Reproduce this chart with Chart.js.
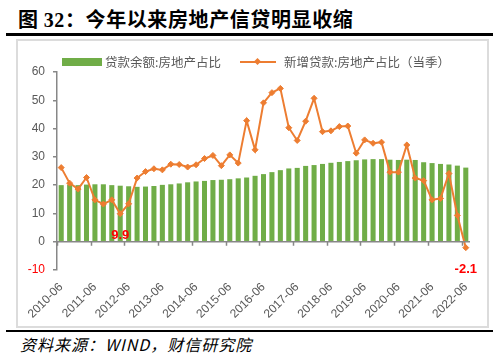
<!DOCTYPE html>
<html>
<head>
<meta charset="utf-8">
<script src="https://cdn.jsdelivr.net/npm/chart.js@4.4.0/dist/chart.umd.min.js"></script>
<style>
  html,body{margin:0;padding:0;background:#fff;}
  body{width:500px;height:356px;position:relative;overflow:hidden;font-family:"Noto Sans CJK SC","Noto Sans",sans-serif;}
  #title{position:absolute;left:18px;top:6px;font-size:20px;font-weight:bold;color:#000;white-space:nowrap;line-height:26px;letter-spacing:0.6px;}
  #title .num{font-family:"Liberation Serif",serif;font-weight:bold;}
  #rule1{position:absolute;left:6px;top:33px;width:487px;height:3px;background:#000;}
  #box{position:absolute;left:16px;top:39px;width:473px;height:289px;border:2px solid #dcdcdc;box-sizing:border-box;}
  #wrap{position:absolute;left:17px;top:40px;width:472px;height:288px;}
  #rule2{position:absolute;left:6px;top:330px;width:487px;height:2px;background:#000;}
  #source{position:absolute;left:20px;top:334px;font-size:16px;font-style:italic;color:#000;white-space:nowrap;line-height:20px;letter-spacing:1px;}
  .lg{position:absolute;font-size:12.5px;color:#595959;white-space:nowrap;line-height:16px;}
  #sw1{position:absolute;left:62px;top:58px;width:40px;height:8px;background:#70AD47;}
  #sw2{position:absolute;left:240px;top:61px;width:36px;height:2px;background:#ED7D31;}
  #sw2m{position:absolute;left:255px;top:59px;width:5px;height:5px;background:#ED7D31;transform:rotate(45deg);}
</style>
</head>
<body>
<div id="title">图 <span class="num">32</span>：今年以来房地产信贷明显收缩</div>
<div id="rule1"></div>
<div id="box"></div>
<div id="wrap"><canvas id="c"></canvas></div>
<div id="sw1"></div>
<div class="lg" style="left:105px;top:54px;">贷款余额:房地产占比</div>
<div id="sw2"></div><div id="sw2m"></div>
<div class="lg" style="left:284px;top:54px;">新增贷款:房地产占比（当季）</div>
<div id="rule2"></div>
<div id="source">资料来源：WIND，财信研究院</div>
<script>
// Quarterly categories 2010-06 .. 2022-06
const categories = [
  "2010-06","2010-09","2010-12","2011-03","2011-06","2011-09","2011-12","2012-03",
  "2012-06","2012-09","2012-12","2013-03","2013-06","2013-09","2013-12","2014-03",
  "2014-06","2014-09","2014-12","2015-03","2015-06","2015-09","2015-12","2016-03",
  "2016-06","2016-09","2016-12","2017-03","2017-06","2017-09","2017-12","2018-03",
  "2018-06","2018-09","2018-12","2019-03","2019-06","2019-09","2019-12","2020-03",
  "2020-06","2020-09","2020-12","2021-03","2021-06","2021-09","2021-12","2022-03",
  "2022-06"
];
// 贷款余额:房地产占比 (bars)
const balanceShare = [
  20.0,20.2,20.0,20.2,20.3,20.3,20.0,19.8,
  19.6,19.4,19.5,19.7,20.1,20.3,20.6,21.0,
  21.3,21.5,21.8,21.9,22.1,22.4,22.7,23.3,
  23.9,24.6,25.3,25.9,26.1,26.8,27.1,27.5,
  27.9,28.2,28.5,28.8,29.1,29.2,29.2,29.0,
  28.9,29.0,28.9,28.1,27.8,27.5,27.3,26.9,
  26.2
];
// 新增贷款:房地产占比（当季） (line)
const newLoanShare = [
  26.2,20.7,18.6,22.7,14.8,13.3,14.8,9.9,
  13.4,22.5,24.8,25.8,25.4,27.4,27.3,26.4,
  27.2,29.4,30.5,26.9,30.7,27.8,42.8,32.5,
  49.1,52.7,54.2,40.3,35.8,42.6,50.7,38.9,
  39.2,40.7,40.9,31.3,36.0,34.8,35.2,24.6,
  24.6,34.2,22.5,21.6,14.8,15.3,24.1,9.3,
  -2.1
];
const yTicks = [-10, 0, 10, 20, 30, 40, 50, 60];
const labelledPoints = [7, 48];

const zeroAxis = {
  id: 'zeroAxis',
  afterDatasetsDraw(chart) {
    const {ctx, chartArea, scales} = chart;
    const x = scales.x, y = scales.y;
    const y0 = y.getPixelForValue(0);
    const w = (chartArea.right - chartArea.left) / categories.length;
    ctx.save();
    ctx.strokeStyle = '#878787';
    ctx.lineWidth = 1.5;
    ctx.beginPath();
    ctx.moveTo(chartArea.left, y0);
    ctx.lineTo(chartArea.right, y0);
    for (let i = 0; i < categories.length; i += 4) {
      const px = Math.round(x.getPixelForValue(i) - w / 2) + 0.5;
      ctx.moveTo(px, y0);
      ctx.lineTo(px, y0 + 4);
    }
    ctx.stroke();
    ctx.restore();
  }
};
const pointLabels = {
  id: 'pointLabels',
  afterDatasetsDraw(chart) {
    const {ctx} = chart;
    const meta = chart.getDatasetMeta(0);
    ctx.save();
    ctx.fillStyle = '#FF0000';
    ctx.font = 'bold 13px "Liberation Sans", Arial, sans-serif';
    ctx.textAlign = 'center';
    ctx.textBaseline = 'middle';
    labelledPoints.forEach(i => {
      const p = meta.data[i];
      ctx.fillText(newLoanShare[i].toFixed(1), p.x, p.y + 22);
    });
    ctx.restore();
  }
};

new Chart(document.getElementById('c'), {
  type: 'bar',
  data: {
    labels: categories,
    datasets: [
      {
        type: 'line',
        label: '新增贷款:房地产占比（当季）',
        data: newLoanShare,
        borderColor: '#ED7D31',
        backgroundColor: '#ED7D31',
        borderWidth: 2,
        pointStyle: 'rectRot',
        pointRadius: 3,
        pointBorderWidth: 1,
        pointBackgroundColor: '#ED7D31',
        tension: 0,
        order: 0
      },
      {
        type: 'bar',
        label: '贷款余额:房地产占比',
        data: balanceShare,
        backgroundColor: '#70AD47',
        categoryPercentage: 1,
        barPercentage: 0.6,
        order: 1
      }
    ]
  },
  options: {
    responsive: true,
    maintainAspectRatio: false,
    animation: false,
    layout: {padding: {left: 0, right: 19, top: 32, bottom: 0}},
    plugins: {legend: {display: false}, tooltip: {enabled: false}},
    scales: {
      x: {
        grid: {display: false},
        border: {display: false},
        ticks: {
          autoSkip: false,
          maxRotation: 45,
          minRotation: 45,
          padding: 2,
          color: '#595959',
          font: {size: 12, family: '"Liberation Sans", Arial, sans-serif'},
          callback: (v, i) => (i % 4 === 0 ? categories[i] : '')
        },
        afterFit: s => { s.height = 58; }
      },
      y: {
        min: yTicks[0],
        max: yTicks[yTicks.length - 1],
        afterBuildTicks: s => { s.ticks = yTicks.map(v => ({value: v})); },
        grid: {drawOnChartArea: false, drawTicks: true, tickLength: 4, color: '#878787', lineWidth: 1.5},
        border: {display: true, color: '#878787', width: 1.5},
        ticks: {
          padding: 8,
          color: c => (c.tick && c.tick.value < 0 ? '#FF0000' : '#595959'),
          font: {size: 12, family: '"Liberation Sans", Arial, sans-serif'}
        },
        afterFit: s => { s.width = 40; }
      }
    }
  },
  plugins: [zeroAxis, pointLabels]
});
</script>
</body>
</html>
